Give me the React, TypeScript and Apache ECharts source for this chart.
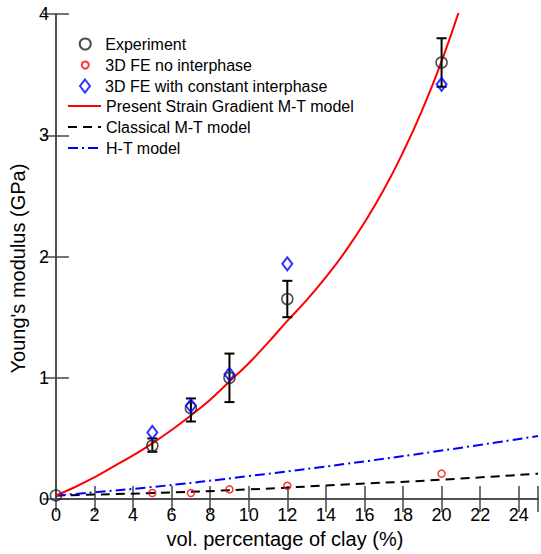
import React, { useEffect, useRef } from "react";
import * as echarts from "echarts";

// Experiment (mean values) and error bars
const expX = [0, 5, 7, 9, 12, 20];
const expY = [0.03, 0.44, 0.75, 1.0, 1.65, 3.6];
const errX = [5, 7, 9, 12, 20];
const errLow = [0.39, 0.64, 0.8, 1.5, 3.4];
const errHigh = [0.5, 0.83, 1.2, 1.8, 3.8];

// 3D FE no interphase
const feNoX = [5, 7, 9, 12, 20];
const feNoY = [0.05, 0.05, 0.08, 0.11, 0.21];

// 3D FE with constant interphase
const feConstX = [5, 7, 9, 12, 20];
const feConstY = [0.55, 0.77, 1.03, 1.94, 3.42];

// Present Strain Gradient M-T model
const sgX = [0, 1, 2, 3, 4, 5, 6, 7, 8, 9, 10, 11, 12, 13, 14, 15, 16, 17, 18, 19, 20, 21];
const sgY = [0.03, 0.1, 0.18, 0.27, 0.36, 0.46, 0.57, 0.69, 0.82, 0.97, 1.12, 1.29, 1.47, 1.64, 1.83, 2.04, 2.28, 2.55, 2.86, 3.21, 3.61, 4.07];

// Classical M-T model
const mtX = [0, 5, 10, 15, 20, 25];
const mtY = [0.03, 0.05, 0.08, 0.12, 0.16, 0.21];

// H-T model
const htX = [0, 5, 10, 15, 20, 25];
const htY = [0.03, 0.1, 0.19, 0.29, 0.4, 0.52];

const NAMES = [
  "Experiment",
  "3D FE no interphase",
  "3D FE with constant interphase",
  "Present Strain Gradient M-T model",
  "Classical M-T model",
  "H-T model",
];

const FONT = "'Liberation Sans', Arial, sans-serif";
const zip = (xs: number[], ys: number[]) => xs.map((x, i) => [x, ys[i]]);

export default function App() {
  const ref = useRef<HTMLDivElement>(null);
  useEffect(() => {
    document.body.style.margin = "0";
    document.body.style.overflow = "hidden";
    if (!ref.current) return;
    const chart = echarts.init(ref.current, undefined, { renderer: "svg" });
    const axisColor = "#444";
    const axisLineStyle = { color: axisColor, width: 1.5 };
    const legendCenters = [44, 65, 86, 106, 127, 148];
    // scatter legend icons: [symbol size, border width]
    const scatterIcon: Record<number, [number, number]> = { 0: [11, 1.5], 1: [7, 1.5], 2: [10, 2] };
    const legends = NAMES.map((n, i) => {
      const isScatter = i < 3;
      const base = {
        top: legendCenters[i] - 8,
        orient: "vertical",
        itemGap: 0,
        padding: 0,
        selectedMode: false,
        textStyle: { fontSize: 16, color: "#000", fontFamily: FONT },
      };
      if (isScatter) {
        const [w, lw] = scatterIcon[i];
        return {
          ...base,
          left: 85 - w / 2 - lw / 2,
          itemWidth: 30,
          itemHeight: i === 2 ? 13 : w,
          data: i === 2 ? [{ name: n, icon: "path://M5 0 L10 6.5 L5 13 L0 6.5 Z" }] : [n],
        };
      }
      return {
        ...base,
        left: 67,
        itemWidth: 33,
        itemHeight: 14,
        itemStyle: { opacity: 0 },
        data: [n],
      };
    });
    chart.setOption({
      animation: false,
      backgroundColor: "#fff",
      grid: { left: 53, top: 14, width: 491, height: 489 },
      legend: legends,
      xAxis: [
        {
          type: "value",
          min: 0,
          max: 25,
          interval: 2,
          position: "bottom",
          axisLine: { lineStyle: axisLineStyle },
          axisTick: { inside: true, length: 13, lineStyle: axisLineStyle },
          axisLabel: {
            fontSize: 18,
            color: "#000",
            fontFamily: FONT,
            margin: 7,
            formatter: (v: number) => (v % 2 === 0 ? String(v) : ""),
          },
          splitLine: { show: false },
          name: "vol. percentage of clay (%)",
          nameLocation: "middle",
          nameGap: 28,
          nameTextStyle: { fontSize: 20, color: "#000", fontFamily: FONT, padding: [0, 24, 0, 0] },
        },
        {
          type: "value",
          min: 0,
          max: 25,
          interval: 2,
          position: "top",
          axisLine: { lineStyle: axisLineStyle },
          axisTick: { inside: true, length: 13, lineStyle: axisLineStyle },
          axisLabel: { show: false },
          splitLine: { show: false },
        },
      ],
      yAxis: [
        {
          type: "value",
          min: 0,
          max: 4,
          interval: 1,
          position: "left",
          axisLine: { lineStyle: axisLineStyle },
          axisTick: { inside: true, length: 13, lineStyle: axisLineStyle },
          axisLabel: { fontSize: 18, color: "#000", fontFamily: FONT, margin: 7 },
          splitLine: { show: false },
          name: "Young's modulus (GPa)",
          nameLocation: "middle",
          nameGap: 15,
          nameTextStyle: { fontSize: 20, color: "#000", fontFamily: FONT, padding: [0, 24, 0, 0] },
        },
        {
          type: "value",
          min: 0,
          max: 4,
          interval: 1,
          position: "right",
          axisLine: { lineStyle: axisLineStyle },
          axisTick: { inside: true, length: 13, lineStyle: axisLineStyle },
          axisLabel: { show: false },
          splitLine: { show: false },
        },
      ],
      series: [
        {
          name: NAMES[4],
          type: "line",
          data: zip(mtX, mtY),
          symbol: "none",
          smooth: true,
          lineStyle: { color: "#000", width: 2, type: [9, 6] },
          itemStyle: { color: "#000" },
          z: 2,
        },
        {
          name: NAMES[5],
          type: "line",
          data: zip(htX, htY),
          symbol: "none",
          smooth: true,
          lineStyle: { color: "#0000ff", width: 2, type: [10, 4, 2, 4] },
          itemStyle: { color: "#0000ff" },
          z: 2,
        },
        {
          name: NAMES[3],
          type: "line",
          data: zip(sgX, sgY),
          symbol: "none",
          smooth: true,
          lineStyle: { color: "#ff0000", width: 2 },
          itemStyle: { color: "#ff0000" },
          z: 3,
        },
        {
          name: "Experiment error",
          type: "custom",
          data: errX.map((x, i) => [x, errLow[i], errHigh[i]]),
          encode: { x: 0, y: [1, 2] },
          z: 4,
          renderItem: (params: any, api: any) => {
            const x = api.value(0);
            const pLo = api.coord([x, api.value(1)]);
            const pHi = api.coord([x, api.value(2)]);
            const hw = 5;
            const style = { stroke: "#000", lineWidth: 2 };
            return {
              type: "group",
              children: [
                { type: "line", shape: { x1: pLo[0], y1: pLo[1], x2: pHi[0], y2: pHi[1] }, style },
                { type: "line", shape: { x1: pLo[0] - hw, y1: pLo[1], x2: pLo[0] + hw, y2: pLo[1] }, style },
                { type: "line", shape: { x1: pHi[0] - hw, y1: pHi[1], x2: pHi[0] + hw, y2: pHi[1] }, style },
              ],
            };
          },
        },
        {
          name: NAMES[0],
          type: "scatter",
          data: zip(expX, expY),
          symbol: "circle",
          symbolSize: 11,
          itemStyle: { color: "transparent", borderColor: "#222", borderWidth: 1.5 },
          z: 5,
        },
        {
          name: NAMES[1],
          type: "scatter",
          data: zip(feNoX, feNoY),
          symbol: "circle",
          symbolSize: 7,
          itemStyle: { color: "transparent", borderColor: "#ff0000", borderWidth: 1.5 },
          z: 5,
        },
        {
          name: NAMES[2],
          type: "scatter",
          data: zip(feConstX, feConstY),
          symbol: "diamond",
          symbolSize: [10, 13],
          itemStyle: { color: "transparent", borderColor: "#0000ff", borderWidth: 2 },
          z: 6,
        },
      ],
    });
    return () => chart.dispose();
  }, []);
  return <div ref={ref} style={{ width: 541, height: 554 }} />;
}
